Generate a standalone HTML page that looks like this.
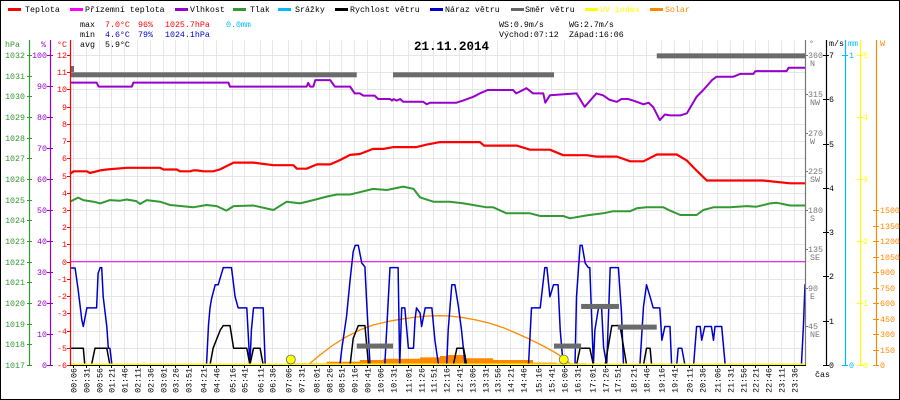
<!DOCTYPE html>
<html><head><meta charset="utf-8">
<style>
html,body{margin:0;padding:0;background:#fff;}
svg{display:block;font-family:"Liberation Mono",monospace;font-size:8.3px;}
</style></head>
<body>
<svg id="chart" width="900" height="400" viewBox="0 0 900 400">
<rect x="0.5" y="0.5" width="899" height="399" fill="#fff" stroke="#000"/>
<g id="grid"></g>
<g id="legend">
  <rect x="8" y="8" width="13" height="3" fill="#ff0000"/><text x="25" y="12">Teplota</text>
  <rect x="70" y="8" width="13" height="3" fill="#ff00ff"/><text x="85" y="12">Přízemní teplota</text>
  <rect x="175" y="8" width="13" height="3" fill="#9900cc"/><text x="190" y="12">Vlhkost</text>
  <rect x="233" y="8" width="13" height="3" fill="#339933"/><text x="250" y="12">Tlak</text>
  <rect x="278" y="8" width="13" height="3" fill="#00bbff"/><text x="295" y="12">Srážky</text>
  <rect x="335" y="8" width="13" height="3" fill="#000"/><text x="350" y="12">Rychlost větru</text>
  <rect x="430" y="8" width="13" height="3" fill="#0000cc"/><text x="445" y="12">Náraz větru</text>
  <rect x="511" y="8" width="13" height="3" fill="#666"/><text x="525" y="12">Směr větru</text>
  <rect x="585" y="8" width="13" height="3" fill="#ffff00"/><text x="600" y="12" fill="#ffff00">UV index</text>
  <rect x="650" y="8" width="13" height="3" fill="#ff8800"/><text x="665" y="12" fill="#ff8800">Solar</text>
</g>
<g id="stats">
  <text x="80" y="27">max</text>
  <text x="105" y="27" fill="#ff0000">7.0°C</text>
  <text x="138" y="27" fill="#ff0000">96%</text>
  <text x="165" y="27" fill="#ff0000">1025.7hPa</text>
  <text x="226" y="27" fill="#00bbff">0.0mm</text>
  <text x="80" y="37">min</text>
  <text x="105" y="37" fill="#0000cc">4.6°C</text>
  <text x="138" y="37" fill="#0000cc">79%</text>
  <text x="165" y="37" fill="#0000cc">1024.1hPa</text>
  <text x="80" y="47">avg</text>
  <text x="105" y="47">5.9°C</text>
  <text x="499" y="27">WS:0.9m/s</text>
  <text x="569" y="27">WG:2.7m/s</text>
  <text x="499" y="37">Východ:07:12</text>
  <text x="569" y="37">Západ:16:06</text>
  <text x="414" y="50" style="font-size:12.5px;font-weight:bold">21.11.2014</text>
</g>
<g id="marks"></g>
<g id="axes"></g>
</svg>
<script>
// ---- data (time in minutes since midnight) ----
const xTickLabels = ["00:06","00:31","00:56","01:21","01:46","02:11","02:36","03:01","03:26","03:51","04:21","04:46","05:16","05:41","06:11","06:36","07:06","07:31","08:01","08:26","08:51","09:16","09:41","10:06","10:31","11:01","11:26","11:51","12:16","12:41","13:06","13:31","13:56","14:21","14:46","15:16","15:41","16:06","16:31","17:01","17:26","17:51","18:21","18:46","19:16","19:41","20:11","20:36","21:06","21:31","21:56","22:21","22:46","23:11","23:36"];
const tempT = [0,7,33,39,59,72,111,176,183,209,215,235,241,248,261,280,293,320,359,372,398,437,444,463,483,509,528,548,567,593,613,633,678,698,724,802,810,874,900,939,965,1011,1030,1070,1096,1122,1148,1187,1207,1226,1246,1356,1409,1440];
const tempV = [5.1,5.25,5.25,5.15,5.3,5.35,5.45,5.45,5.35,5.35,5.25,5.25,5.3,5.3,5.25,5.25,5.35,5.75,5.75,5.7,5.6,5.6,5.4,5.4,5.65,5.65,5.9,6.2,6.25,6.55,6.55,6.65,6.65,6.8,6.94,6.94,6.74,6.74,6.5,6.5,6.18,6.18,6.1,6.1,5.83,5.83,6.22,6.22,5.87,5.29,4.71,4.71,4.55,4.55];
const humT = [0,52,56,121,124,310,313,463,466,470,476,480,509,518,548,557,567,574,596,603,626,630,633,639,646,652,691,698,704,756,769,789,802,817,867,873,880,893,906,926,930,939,991,1007,1030,1043,1056,1070,1079,1092,1102,1122,1132,1141,1154,1164,1174,1194,1207,1226,1239,1256,1265,1298,1311,1337,1341,1402,1406,1440];
const humV = [91.1,91.1,89.8,89.8,91.1,91.1,89.8,89.8,91,89.8,89.8,91.9,91.9,89.8,89.8,87.6,87.6,86.9,86.9,85.8,85.8,85.3,85.8,85.3,85.8,84.9,84.9,84.1,84.6,84.6,85.3,86.5,87.6,88.7,88.7,87.6,88.2,89.3,87.6,87.6,84.6,87.0,87.6,83.3,87.6,87.0,85.5,84.9,85.8,85.8,85.3,84.1,84.6,83.2,79,80.8,80.5,80.5,81.2,86.5,88.7,91.9,93,93,93.9,93.9,94.8,94.8,95.9,95.9];
const pressT = [0,16,26,46,59,78,98,111,130,137,150,176,196,241,267,287,306,320,359,398,424,450,476,502,522,548,567,593,620,652,672,685,711,743,770,815,828,854,900,920,965,978,1011,1043,1063,1096,1109,1128,1161,1174,1194,1226,1239,1259,1291,1324,1343,1370,1383,1409,1440];
const pressV = [1024.90,1025.10,1024.98,1024.90,1024.82,1024.98,1024.95,1025.01,1024.93,1024.79,1024.98,1024.90,1024.74,1024.63,1024.74,1024.69,1024.47,1024.69,1024.72,1024.50,1024.90,1024.82,1024.98,1025.15,1025.25,1025.25,1025.36,1025.52,1025.47,1025.63,1025.52,1025.11,1024.90,1024.90,1024.82,1024.63,1024.63,1024.34,1024.34,1024.21,1024.21,1024.10,1024.24,1024.34,1024.44,1024.44,1024.58,1024.63,1024.63,1024.47,1024.26,1024.26,1024.50,1024.63,1024.63,1024.69,1024.66,1024.82,1024.85,1024.72,1024.72];
const gustT = [0,10,16,23,26,33,52,55,59,62,65,72,75,78,82,267,271,274,277,284,290,300,316,323,329,346,352,355,359,378,382,528,532,541,548,554,558,564,571,577,580,587,616,626,642,645,649,655,662,672,675,678,685,688,695,708,714,721,737,740,747,753,760,766,773,897,903,920,929,933,939,946,955,959,965,988,991,998,1002,1008,1014,1017,1024,1027,1034,1040,1044,1050,1057,1073,1079,1083,1115,1122,1128,1135,1141,1154,1158,1164,1174,1177,1187,1190,1197,1203,1220,1226,1233,1236,1242,1255,1259,1262,1275,1282,1431,1435,1438,1440];
const gustV = [2.19,2.19,1.69,1.02,0.87,1.29,1.29,2.07,2.20,2.20,1.54,0.87,0.38,0.38,0,0,0.9,1.29,1.5,1.81,1.81,2.20,2.20,1.54,1.29,1.29,0,0.79,1.29,1.29,0,0,0.38,1.09,1.92,2.56,2.70,2.70,2.30,2.22,1.54,0,0,2.20,2.20,0,1.29,1.29,0.38,0.38,1.02,1.29,1.17,0.87,1.29,1.29,0.56,0,0,0.79,1.81,1.81,1.32,0.79,0,0,1.29,1.29,2.20,2.20,1.54,1.81,1.81,0.79,0,0,1.54,2.70,2.70,2.30,2.20,2.20,0,0.79,1.29,1.29,0.4,0,2.20,2.20,1.17,0,0,1.32,1.81,1.54,1.29,1.29,0.56,0.87,0.87,0,0,0.38,0.38,0,0,0.87,0.87,0.56,0.87,0.87,0.56,0.87,0.87,0,0,0.87,1.81,1.81];
const speedT = [0,26,29,42,49,72,78,274,280,294,300,313,320,346,352,359,372,378,548,554,564,577,584,750,757,770,776,991,998,1017,1024,1047,1060,1076,1089,1122,1128,1135,1138,1440];
const speedV = [0.38,0.38,0,0,0.38,0.38,0,0,0.38,0.79,0.89,0.89,0.38,0.38,0,0.38,0.38,0,0,0.6,0.89,0.89,0,0,0.38,0.38,0,0,0.38,0.38,0,0,0.89,0.89,0,0,0.38,0.38,0,0];
const dirStart = [0,561,632,947,1000,1072,1148];
const dirEnd = [561,632,947,1000,1074,1148,1440];
const dirDeg = [337,22,337,22,68,44,359];
const solarMaxT = [463,470,489,515,541,567,593,620,646,672,698,724,743,770,796,822,848,874,900,926,952,972,982];
const solarMaxV = [0,16,97,194,274,339,387,419,442,461,474,477,474,458,435,403,361,306,248,184,113,39,0];
const solarT = [430,502,567,613,685,724,736,775,828,906,952,998,1011];
const solarV = [16,32,48,61,74,87,97,65,48,23,16,16,0];
const groundTemp = 0;
const uvValue = 0;
const sunEvents = [432,966];

// ---- scales ----
const X0=70, X1=806, Y0=365;
function xT(m){return X0 + m*(X1-X0)/1440;}
function yC(t){return Y0 - (t+6)*310/18;}
function yMs(v){return Y0 - v*310/7;}
function yH(h){return Y0 - h*3.1;}
function yP(p){return Y0 - (p-1017)*310/15;}
function yDeg(d){return Y0 - d*310/360;}
function yW(w){return Y0 - w*155/1500;}
function yUV(u){return Y0 - u*62;}

const NS="http://www.w3.org/2000/svg";
function el(tag, attrs, parent){const e=document.createElementNS(NS,tag);for(const k in attrs)e.setAttribute(k,attrs[k]);parent.appendChild(e);return e;}
const grid=document.getElementById('grid'), marks=document.getElementById('marks'), axes=document.getElementById('axes');

// grid
for(let i=0;i<xTickLabels.length;i++){
  const p=xTickLabels[i].split(':'); const m=+p[0]*60+ +p[1];
  const gx=Math.round(xT(m))+0.5;
  const l=el('line',{x1:gx,x2:gx,y1:40,y2:Y0,stroke:'#e6e6e6'},grid);
  
  
  const tk=el('line',{x1:gx,x2:gx,y1:Y0,y2:Y0+3,stroke:'#000'},axes);
  
  
  const t=el('text',{x:gx+3,y:368,'text-anchor':'end',transform:'rotate(-90 '+(gx+3)+' 368)'},axes);
  t.textContent=xTickLabels[i];
  
  
}
for(let c=-6;c<=12;c++){
  const gy=Math.round(yC(c))+0.5;
  const l=el('line',{x1:X0,x2:X1,y1:gy,y2:gy,stroke:'#e6e6e6'},grid);
  
  
}

function poly(ts,vs,yf,color,w,name){
  const pts=ts.map((t,i)=>xT(t).toFixed(1)+','+yf(vs[i]).toFixed(1)).join(' ');
  const p=el('polyline',{points:pts,fill:'none',stroke:color,'stroke-width':w,'stroke-linejoin':'round'},marks);
  
  
  return p;
}
// solar actual (step area)
{
  let d='M'+xT(solarT[0])+','+Y0;
  for(let i=0;i<solarT.length;i++){
    const x=xT(solarT[i]), y=yW(solarV[i]);
    d+=' L'+x.toFixed(1)+','+y.toFixed(1);
    if(i<solarT.length-1) d+=' L'+xT(solarT[i+1]).toFixed(1)+','+y.toFixed(1);
  }
  d+=' L'+xT(solarT[solarT.length-1])+','+Y0+' Z';
  const a=el('path',{d:d,fill:'#ff8800'},marks);
  
  
}
poly(solarMaxT,solarMaxV,yW,'#ff8800',1.3,'solar-max-line');
// ground temp
{const l=el('line',{x1:X0,x2:X1,y1:yC(groundTemp),y2:yC(groundTemp),stroke:'#ff00ff','stroke-width':1},marks);

}
poly(humT,humV,yH,'#9900cc',2,'humidity-line');
poly(pressT,pressV,yP,'#339933',2,'pressure-line');
poly(tempT,tempV,yC,'#ff0000',2.2,'temperature-line');
poly(gustT,gustV,yMs,'#0000cc',1.5,'wind-gust-line');
poly(speedT,speedV,yMs,'#000000',1.5,'wind-speed-line');
for(let i=0;i<dirDeg.length;i++){
  const y=yDeg(dirDeg[i]);
  const r=el('rect',{x:xT(dirStart[i]),y:y-2.5,width:xT(dirEnd[i])-xT(dirStart[i]),height:5,fill:'#6b6b6b'},marks);
  
  
}
{const r=el('rect',{x:70,y:66,width:4,height:6,fill:'#6b6b6b'},marks);

}
{const l=el('line',{x1:X0,x2:X1,y1:yUV(uvValue)-0.5,y2:yUV(uvValue)-0.5,stroke:'#ffff00','stroke-width':2},marks);

}
for(const s of sunEvents){
  const c=el('circle',{cx:xT(s),cy:359.5,r:4.5,fill:'#ffff00',stroke:'#666','stroke-width':0.8},marks);
  
  
}

// axes
function vaxis(x,y1,y2,color,name){
  const l=el('line',{x1:x+0.5,x2:x+0.5,y1:y1,y2:y2,stroke:color,'stroke-width':1.2},axes);
  
  
}
function label(x,y,txt,color,anchor,name){
  const t=el('text',{x:x,y:y,fill:color,'text-anchor':anchor||'start'},axes);
  t.textContent=txt;
  
  
  return t;
}
function tick(x,y,len,color){
  const l=el('line',{x1:x,x2:x+len,y1:y+0.5,y2:y+0.5,stroke:color},axes);
  
  
}
vaxis(29,40,Y0,'#339933','pressure-axis');
vaxis(50,40,Y0,'#9900cc','humidity-axis');
vaxis(70,40,Y0,'#ff0000','temperature-axis');
label(5,47,'hPa','#339933','start','pressure-axis-title');
label(41,47,'%','#9900cc','start','humidity-axis-title');
label(57,47,'°C','#ff0000','start','temperature-axis-title');
for(let p=1017;p<=1032;p++){const y=Math.round(yP(p));tick(27,y,5,'#339933');label(25,y+3,String(p),'#339933','end','pressure-tick-label');}
for(let h=0;h<=100;h+=10){const y=Math.round(yH(h));tick(47,y,6,'#9900cc');label(47,y+3,String(h),'#9900cc','end','humidity-tick-label');}
for(let c=-6;c<=12;c++){const y=Math.round(yC(c));tick(67,y,4,'#ff0000');label(67,y+3,String(c),'#ff0000','end','temperature-tick-label');}
// bottom axis
{const l=el('line',{x1:X0,x2:X1,y1:Y0+0.5,y2:Y0+0.5,stroke:'#000'},axes);

}
// right axes
vaxis(805,40,Y0,'#777','direction-axis');
vaxis(826,40,Y0,'#000','wind-axis');
vaxis(845,40,Y0,'#00bbff','rain-axis');
vaxis(860,40,Y0,'#ffff00','uv-axis');
vaxis(876,40,Y0,'#ff8800','solar-axis');
label(809,46,'°','#777','start','direction-axis-title');
label(829,46,'m/s','#000','start','wind-axis-title');
label(848,46,'mm','#00bbff','start','rain-axis-title');
label(880,46,'W','#ff8800','start','solar-axis-title');
label(815,377,'čas','#000','start','time-axis-title');
const dirNames=['','NE','E','SE','S','SW','W','NW','N'];
for(let d=45;d<=360;d+=45){const y=Math.round(yDeg(d));tick(805,y,3,'#777');label(808,y+3,String(d),'#777','start','direction-tick-label');label(810,y+11,dirNames[d/45],'#777','start','direction-name-label');}
for(let v=0;v<=7;v++){const y=Math.round(yMs(v));tick(823,y,6,'#000');label(829,y+3,String(v),'#000','start','wind-tick-label');}
tick(842,55,6,'#00bbff');label(849,58,'1','#00bbff','start','rain-tick-label');
tick(842,365,6,'#00bbff');label(849,368,'0','#00bbff','start','rain-tick-label');
for(let u=0;u<=5;u++){const y=Math.round(yUV(u));tick(857,y,6,'#ffff00');label(863,y+3,String(u),'#ffff00','start','uv-tick-label');}
for(let w=0;w<=1500;w+=150){const y=Math.round(yW(w));tick(873,y,6,'#ff8800');label(880,y+3,String(w),'#ff8800','start','solar-tick-label');}
</script>
</body></html>
